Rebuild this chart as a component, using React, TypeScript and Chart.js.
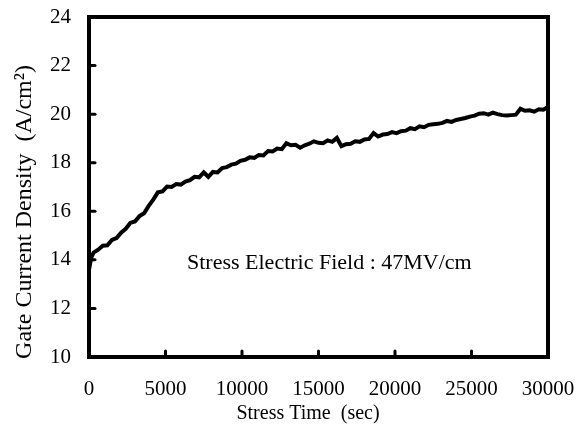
import React, { useEffect, useRef } from "react";
import { Chart, registerables } from "chart.js";

Chart.register(...registerables);

const stressTimes: number[] = [
  0, 150, 300, 600, 900, 1200, 1500, 1800, 2100, 2400, 2700, 3000, 3300, 3600, 3900,
  4200, 4500, 4800, 5100, 5400, 5700, 6000, 6300, 6600, 6900, 7200, 7500, 7800, 8100,
  8400, 8700, 9000, 9300, 9600, 9900, 10200, 10500, 10800, 11100, 11400, 11700, 12000,
  12300, 12600, 12900, 13200, 13500, 13800, 14100, 14400, 14700, 15000, 15300, 15600,
  15900, 16200, 16500, 16800, 17100, 17400, 17700, 18000, 18300, 18600, 18900, 19200,
  19500, 19800, 20100, 20400, 20700, 21000, 21300, 21600, 21900, 22200, 22500, 22800,
  23100, 23400, 23700, 24000, 24300, 24600, 24900, 25200, 25500, 25800, 26100, 26400,
  26700, 27000, 27300, 27600, 27900, 28200, 28500, 28800, 29100, 29400, 29700, 30000,
];

const currentDensity: number[] = [
  13.6, 14.1, 14.3, 14.42, 14.58, 14.6, 14.82, 14.9, 15.12, 15.28, 15.52, 15.58, 15.8, 15.92, 16.22,
  16.48, 16.78, 16.82, 17.02, 17.0, 17.12, 17.1, 17.22, 17.28, 17.42, 17.4, 17.6, 17.42, 17.62,
  17.6, 17.78, 17.82, 17.92, 17.96, 18.08, 18.12, 18.22, 18.2, 18.32, 18.3, 18.48, 18.46,
  18.58, 18.56, 18.8, 18.72, 18.74, 18.62, 18.72, 18.78, 18.88, 18.82, 18.8, 18.92,
  18.86, 19.02, 18.68, 18.76, 18.78, 18.88, 18.86, 18.96, 18.98, 19.22, 19.08, 19.16,
  19.18, 19.26, 19.22, 19.3, 19.32, 19.42, 19.38, 19.5, 19.46, 19.56, 19.58, 19.6,
  19.64, 19.72, 19.68, 19.76, 19.8, 19.84, 19.9, 19.94, 20.02, 20.04, 19.98, 20.06,
  20.0, 19.96, 19.94, 19.96, 19.98, 20.22, 20.14, 20.16, 20.1, 20.2, 20.18, 20.3,
];

const yTickValues: number[] = [10, 12, 14, 16, 18, 20, 22, 24];
const xTickValues: number[] = [0, 5000, 10000, 15000, 20000, 25000, 30000];

const xTitle = "Stress Time  (sec)";
const yTitle = "Gate Current Density  (A/cm\u00B2)";
const annotation = "Stress Electric Field : 47MV/cm";

const FONT = '"Liberation Serif", "Times New Roman", serif';

const framePlugin = {
  id: "frame",
  afterDraw(chart: any) {
    const { ctx, chartArea } = chart;
    const { left, right, top, bottom } = chartArea;
    const xs = chart.scales.x;
    const ys = chart.scales.y;
    ctx.save();
    ctx.strokeStyle = "#000";
    ctx.lineWidth = 4;
    ctx.strokeRect(left, top, right - left, bottom - top);
    ctx.lineWidth = 3;
    ctx.lineCap = "round";
    for (const v of yTickValues) {
      if (v === 10 || v === 24) continue;
      const y = ys.getPixelForValue(v);
      ctx.beginPath();
      ctx.moveTo(left, y);
      ctx.lineTo(left + 6, y);
      ctx.stroke();
    }
    for (const v of xTickValues) {
      if (v === 0 || v === 30000) continue;
      const x = xs.getPixelForValue(v);
      ctx.beginPath();
      ctx.moveTo(x, bottom);
      ctx.lineTo(x, bottom - 6);
      ctx.stroke();
    }
    ctx.fillStyle = "#000";
    ctx.textAlign = "center";
    ctx.textBaseline = "middle";
    ctx.font = `20px ${FONT}`;
    ctx.fillText(xTitle, 308, 414);
    ctx.save();
    ctx.translate(25, 212);
    ctx.rotate(-Math.PI / 2);
    ctx.font = `24px ${FONT}`;
    ctx.fillText(yTitle, 0, 0);
    ctx.restore();
    ctx.textAlign = "left";
    ctx.textBaseline = "alphabetic";
    ctx.font = `22px ${FONT}`;
    ctx.fillText(annotation, 187, 269);
    ctx.restore();
  },
};

export default function App() {
  const ref = useRef<HTMLCanvasElement | null>(null);
  useEffect(() => {
    if (!ref.current) return;
    const data = stressTimes.map((t, i) => ({ x: t, y: currentDensity[i] }));
    const chart = new Chart(ref.current, {
      type: "line",
      data: {
        datasets: [
          {
            data,
            borderColor: "#000",
            borderWidth: 4,
            pointRadius: 0,
            tension: 0,
            fill: false,
          },
        ],
      },
      options: {
        animation: false,
        responsive: false,
        devicePixelRatio: 1,
        layout: { padding: { top: 17, right: 33, left: 0, bottom: 0 } },
        plugins: { legend: { display: false }, tooltip: { enabled: false } },
        scales: {
          x: {
            type: "linear",
            min: 0,
            max: 30000,
            afterFit: (s: any) => {
              s.height = 80;
              s.paddingLeft = 0;
              s.paddingRight = 0;
            },
            afterBuildTicks: (s: any) => {
              s.ticks = xTickValues.map((v) => ({ value: v }));
            },
            ticks: {
              color: "#000",
              font: { family: FONT, size: 21 },
              padding: 20,
              maxRotation: 0,
              autoSkip: false,
              callback: (v: any) => String(v),
            },
            grid: { display: false, drawTicks: false },
            border: { display: false },
          },
          y: {
            type: "linear",
            min: 10,
            max: 24,
            afterFit: (s: any) => {
              s.width = 89;
              s.paddingTop = 0;
              s.paddingBottom = 0;
            },
            afterBuildTicks: (s: any) => {
              s.ticks = yTickValues.map((v) => ({ value: v }));
            },
            ticks: {
              color: "#000",
              font: { family: FONT, size: 21 },
              padding: 18,
              autoSkip: false,
              callback: (v: any) => String(v),
            },
            grid: { display: false, drawTicks: false },
            border: { display: false },
          },
        },
      },
      plugins: [framePlugin],
    });
    return () => chart.destroy();
  }, []);
  return (
    <div style={{ position: "fixed", left: 0, top: 0, width: 581, height: 437, background: "#fff" }}>
      <canvas ref={ref} width={581} height={437} />
    </div>
  );
}
